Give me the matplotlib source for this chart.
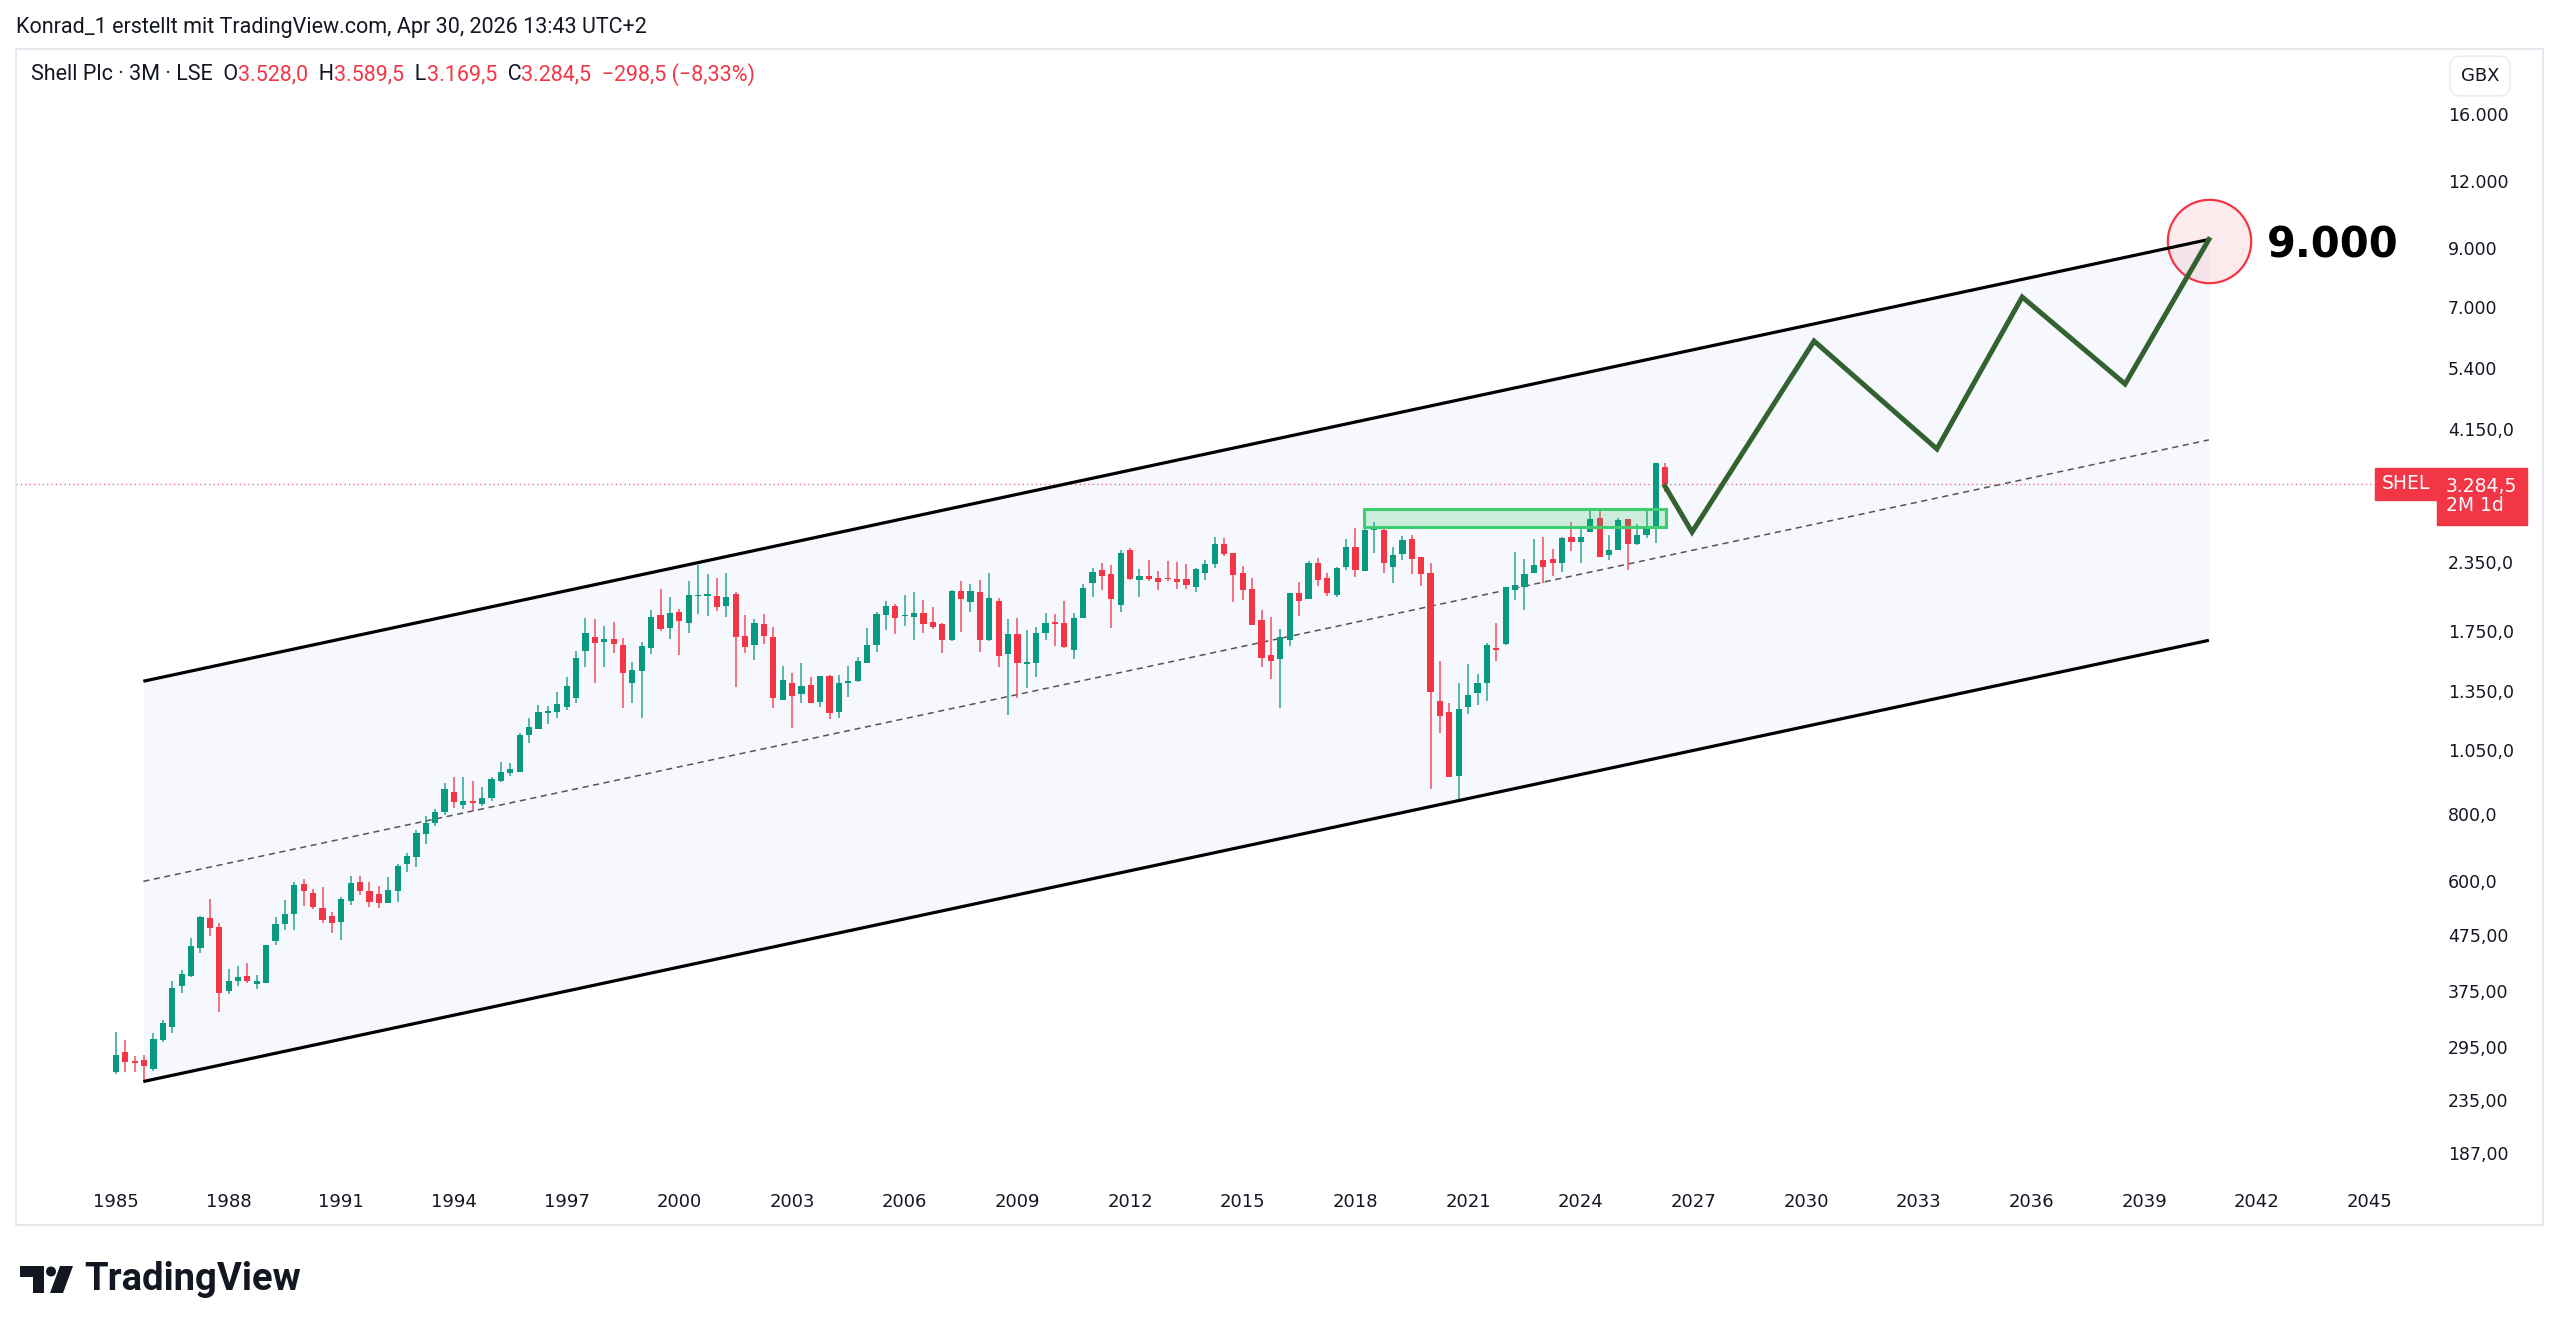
import matplotlib
matplotlib.use("Agg")
import matplotlib.pyplot as plt
import matplotlib.patches as mpatches
from matplotlib.ticker import NullLocator
import numpy as np

# Shell Plc, LSE, 3M (quarterly) candles, first bar = 1985 Q1
first_year = 1985
opens = [264, 288, 277, 278, 268, 303, 321, 382, 399, 450, 511, 493, 375, 391, 399, 385,
         388, 463, 499, 520, 592, 570, 535, 517, 502, 550, 597, 574, 567, 546, 574, 644,
         663, 732, 769, 805, 879, 830, 845, 835, 857, 920, 952, 956, 1120, 1147, 1232, 1237,
         1265, 1310, 1605, 1706, 1668, 1688, 1647, 1401, 1473, 1625, 1870, 1768, 1898, 1812,
         2030, 2030, 2035, 1945, 2048, 1711, 1646, 1800, 1706, 1300, 1401, 1333, 1388, 1291,
         1445, 1237, 1401, 1411, 1527, 1650, 1872, 1948, 1862, 1860, 1890, 1814, 1800, 1684,
         2075, 1982, 2070, 1680, 1990, 1584, 1723, 1520, 1525, 1735, 1820, 1807, 1610, 1852,
         2143, 2270, 2228, 1953, 2474, 2173, 2215, 2190, 2186, 2186, 2183, 2115, 2245, 2325,
         2534, 2440, 2237, 2096, 1833, 1580, 1550, 1679, 2055, 2002, 2342, 2190, 2040, 2296,
         2502, 2262, 2690, 2695, 2298, 2430, 2590, 2400, 2238, 1297, 1238, 940, 1264, 1339,
         1398, 1625, 1654, 2088, 2115, 2240, 2370, 2384, 2342, 2614, 2565, 2666, 2840, 2422,
         2474, 2824, 2540, 2638, 2735, 3528.0]
highs = [314, 303, 283, 285, 313, 331, 390, 410, 469, 515, 556, 500, 412, 416, 422, 401,
         455, 514, 553, 598, 604, 580, 585, 525, 560, 612, 612, 597, 587, 610, 644, 676,
         745, 791, 815, 910, 934, 934, 920, 898, 937, 999, 995, 1131, 1203, 1273, 1268, 1348,
         1437, 1607, 1845, 1840, 1785, 1819, 1695, 1528, 1670, 1912, 2090, 2019, 1922, 2169,
         2319, 2231, 2190, 2245, 2063, 1872, 1838, 1877, 1776, 1505, 1463, 1527, 1437, 1445,
         1450, 1450, 1507, 1566, 1768, 1899, 1990, 1962, 2041, 2063, 1996, 1940, 1810, 2083,
         2164, 2137, 2172, 2238, 2010, 1840, 1850, 1757, 1781, 1885, 1880, 1990, 1885, 2137,
         2287, 2342, 2316, 2474, 2490, 2280, 2373, 2263, 2357, 2354, 2330, 2287, 2373, 2611,
         2600, 2440, 2310, 2196, 1910, 1857, 1761, 2055, 2158, 2356, 2395, 2245, 2303, 2590,
         2714, 2730, 2793, 2720, 2502, 2628, 2638, 2405, 2336, 1540, 1282, 1398, 1516, 1455,
         1659, 1807, 2114, 2456, 2384, 2590, 2614, 2480, 2614, 2793, 2714, 2944, 2944, 2638,
         2838, 2830, 2764, 2935, 3585, 3589.5]
lows = [262, 265, 264, 254, 266, 301, 313, 371, 398, 441, 474, 342, 369, 382, 388, 377,
        388, 455, 486, 486, 538, 531, 500, 479, 466, 540, 565, 537, 535, 546, 548, 624,
        637, 703, 760, 795, 820, 815, 810, 825, 845, 915, 940, 955, 1084, 1147, 1174, 1203,
        1246, 1286, 1500, 1401, 1497, 1589, 1255, 1282, 1203, 1585, 1751, 1688, 1577, 1731,
        1880, 1865, 1905, 1855, 1373, 1589, 1544, 1653, 1255, 1300, 1152, 1286, 1282, 1263,
        1202, 1207, 1319, 1408, 1523, 1596, 1756, 1728, 1786, 1684, 1735, 1760, 1593, 1674,
        1744, 1893, 1600, 1674, 1496, 1220, 1310, 1368, 1434, 1680, 1638, 1624, 1550, 1850,
        2026, 2081, 1774, 1893, 2173, 2020, 2168, 2087, 2170, 2094, 2094, 2068, 2173, 2290,
        2415, 1982, 1996, 1794, 1500, 1421, 1260, 1639, 1867, 2002, 2124, 2030, 2025, 2275,
        2200, 2262, 2438, 2238, 2145, 2373, 2232, 2121, 887, 1131, 937, 846, 1226, 1274,
        1297, 1538, 1647, 1999, 1915, 2240, 2151, 2213, 2253, 2460, 2342, 2666, 2400, 2370,
        2474, 2273, 2530, 2601, 2553, 3169.5]
closes = [285, 276, 275, 271, 305, 326, 379, 402, 453, 513, 490, 371, 390, 397, 390, 391,
          455, 499, 521, 590, 574, 537, 507, 500, 556, 595, 574, 549, 545, 577, 638, 667,
          737, 769, 805, 887, 840, 845, 838, 857, 926, 954, 967, 1120, 1157, 1237, 1240, 1279,
          1381, 1555, 1736, 1658, 1688, 1651, 1458, 1479, 1639, 1859, 1761, 1891, 1827, 2040,
          2040, 2045, 1940, 2025, 1701, 1635, 1812, 1711, 1310, 1417, 1324, 1384, 1286, 1442,
          1232, 1401, 1410, 1537, 1646, 1880, 1945, 1846, 1872, 1885, 1800, 1780, 1684, 2077,
          2002, 2077, 1684, 2010, 1571, 1728, 1522, 1525, 1735, 1807, 1802, 1634, 1850, 2104,
          2254, 2212, 2002, 2445, 2186, 2215, 2183, 2157, 2180, 2157, 2132, 2276, 2330, 2534,
          2432, 2221, 2087, 1794, 1557, 1535, 1703, 2055, 1987, 2342, 2173, 2055, 2294, 2502,
          2273, 2700, 2695, 2336, 2422, 2577, 2376, 2232, 1348, 1215, 937, 1250, 1329, 1398,
          1647, 1612, 2108, 2130, 2232, 2320, 2297, 2336, 2601, 2565, 2620, 2824, 2405, 2474,
          2812, 2540, 2638, 2735, 3583, 3284.5]

price_ticks = [187, 235, 295, 375, 475, 600, 800, 1050, 1350, 1750, 2350,
               4150, 5400, 7000, 9000, 12000, 16000]
price_tick_labels = ["187,00", "235,00", "295,00", "375,00", "475,00", "600,0", "800,0",
                     "1.050,0", "1.350,0", "1.750,0", "2.350,0", "4.150,0", "5.400",
                     "7.000", "9.000", "12.000", "16.000"]
year_ticks = list(range(1985, 2046, 3))

# drawings
channel_x = [1985.73, 2040.72]
channel_upper = [1410, 9350]
channel_lower = [254, 1680]
zone_x = [2018.23, 2026.27]
zone_y = [2733, 2943]
path_x = [2026.24, 2026.96, 2030.21, 2033.48, 2035.75, 2038.49, 2040.72]
path_y = [3250, 2671, 6052, 3812, 7307, 5035, 9350]
target_price = 9000
target_x = 2040.72
target_y = 9300

GREEN = "#089981"
RED = "#f23645"
TXT = "#131722"
W, H = 2560, 1333


def de_fmt(v, dec=1):
    s = f"{v:,.{dec}f}"
    return s.replace(",", "X").replace(".", ",").replace("X", ".")


fig = plt.figure(figsize=(W / 100, H / 100), dpi=100)
fig.patch.set_facecolor("white")
ax = fig.add_axes([16 / W, 1 - 1175 / H, (2438 - 16) / W, (1175 - 49) / H])
ax.set_yscale("log")
ax.set_xlim(1982.34, 2046.82)
ax.set_ylim(170.2, 21135)
for s in ax.spines.values():
    s.set_visible(False)

# channel
ch_mid = list(np.sqrt(np.array(channel_upper) * np.array(channel_lower)))
ax.fill_between(channel_x, channel_lower, channel_upper, color="#f7f8fe", zorder=0.5, lw=0)
ax.plot(channel_x, channel_upper, color="black", lw=2.3, zorder=3, solid_capstyle="butt")
ax.plot(channel_x, channel_lower, color="black", lw=2.3, zorder=3, solid_capstyle="butt")
ax.plot(channel_x, ch_mid, color="#555555", lw=1.1, ls=(0, (4, 3)), zorder=1)

# last price line
ax.axhline(closes[-1], color=RED, lw=0.9, ls=(0, (1, 2.5)), zorder=1, alpha=0.85)

# candles
o = np.array(opens, float)
h = np.array(highs, float)
l = np.array(lows, float)
c = np.array(closes, float)
x = first_year + np.arange(len(o)) * 0.25
cols = np.where(c >= o, GREEN, RED)
ax.vlines(x, l, h, colors=cols, lw=1.2, alpha=0.8, zorder=2)
bot = np.minimum(o, c)
hgt = np.maximum(np.abs(c - o), bot * 0.006)
ax.bar(x, hgt, bottom=bot, width=0.165, color=cols, lw=0, zorder=2.1)

# resistance zone
ax.add_patch(mpatches.Rectangle((zone_x[0], zone_y[0]), zone_x[1] - zone_x[0],
                                zone_y[1] - zone_y[0], facecolor=(0.133, 0.773, 0.369, 0.2),
                                edgecolor="#3dcf6f", lw=2.2, zorder=3))

# projected path
ax.plot(path_x, path_y, color="#33612f", lw=3.6, zorder=4, solid_joinstyle="miter")

# target circle and label
ax.plot([target_x], [target_y], marker="o", ms=60, mfc=(0.949, 0.212, 0.271, 0.1),
        mec=RED, mew=1.6, zorder=2.5, ls="none")
ax.text(2042.27, 9100, de_fmt(target_price, 0), fontsize=30, fontweight="bold",
        color="black", va="center", ha="left", zorder=5)

# axes ticks
ax.yaxis.tick_right()
ax.set_yticks(price_ticks)
ax.set_yticklabels(price_tick_labels)
ax.yaxis.set_minor_locator(NullLocator())
ax.tick_params(axis="y", length=0, pad=7, labelsize=12.5, labelcolor=TXT)
ax.set_xticks(year_ticks)
ax.set_xticklabels([str(y) for y in year_ticks])
ax.tick_params(axis="x", length=0, pad=13, labelsize=13, labelcolor=TXT)

# last price labels
ytr = ax.get_yaxis_transform()
ax.text((2406 - 16) / 2422, closes[-1], "SHEL", transform=ytr, ha="center", va="center",
        fontsize=13.5, color="white", zorder=6,
        bbox=dict(boxstyle="square,pad=0.35", fc=RED, ec=RED))
ax.text((2446 - 16) / 2422, closes[-1] * 1.028, de_fmt(closes[-1]) + "\n2M 1d", transform=ytr,
        ha="left", va="top", fontsize=13.5, color="white", zorder=6, linespacing=1.0,
        bbox=dict(boxstyle="square,pad=0.5", fc=RED, ec=RED))

# panel border + GBX box
fig.patches.append(mpatches.Rectangle((16 / W, 1 - 1225 / H), (2543 - 16) / W, (1225 - 49) / H,
                                      transform=fig.transFigure, fill=False,
                                      ec="#e0e3eb", lw=1.2))
fig.text(2480 / W, 1 - 76 / H, "GBX", ha="center", va="center", fontsize=13, color=TXT,
         bbox=dict(boxstyle="round,pad=0.6", fc="white", ec="#e8eaf0"))

# header
fam = ["Roboto", "DejaVu Sans"]
fig.text(16 / W, 1 - 28 / H, "Konrad_1 erstellt mit TradingView.com, Apr 30, 2026 13:43 UTC+2",
         va="center", fontsize=15.5, color=TXT, family=fam)
chg = closes[-1] - closes[-2]
pct = chg / closes[-2] * 100
parts = [("Shell Plc · 3M · LSE  O", TXT), (de_fmt(opens[-1]), RED), ("  H", TXT),
         (de_fmt(highs[-1]), RED), ("  L", TXT), (de_fmt(lows[-1]), RED), ("  C", TXT),
         (de_fmt(closes[-1]), RED),
         ("  " + de_fmt(chg).replace("-", "−") + " (" + de_fmt(pct, 2).replace("-", "−") + "%)", RED)]
renderer = fig.canvas.get_renderer()
xpos = 31
for txt, col in parts:
    t = fig.text(xpos / W, 1 - 75 / H, txt, va="center", fontsize=15.5, color=col, family=fam)
    xpos += t.get_window_extent(renderer).width

# TradingView logo
def px(xx, yy):
    return (xx / W, 1 - yy / H)

fig.patches.append(mpatches.Polygon([px(20, 1266), px(44, 1266), px(44, 1293), px(33, 1293),
                                     px(33, 1277), px(20, 1277)], closed=True,
                                    transform=fig.transFigure, fc=TXT, ec="none"))
fig.patches.append(mpatches.Ellipse(px(51, 1271.5), 10 / W, 10 / H, transform=fig.transFigure,
                                    fc=TXT, ec="none"))
fig.patches.append(mpatches.Polygon([px(60, 1266), px(73, 1266), px(63, 1293), px(50, 1293)],
                                    closed=True, transform=fig.transFigure, fc=TXT, ec="none"))
fig.text(84 / W, 1 - 1280 / H, "TradingView", va="center", ha="left", fontsize=27.5,
         fontweight="bold", color=TXT, family=["Roboto", "DejaVu Sans"])

fig.savefig("out.png", dpi=100, facecolor="white")
